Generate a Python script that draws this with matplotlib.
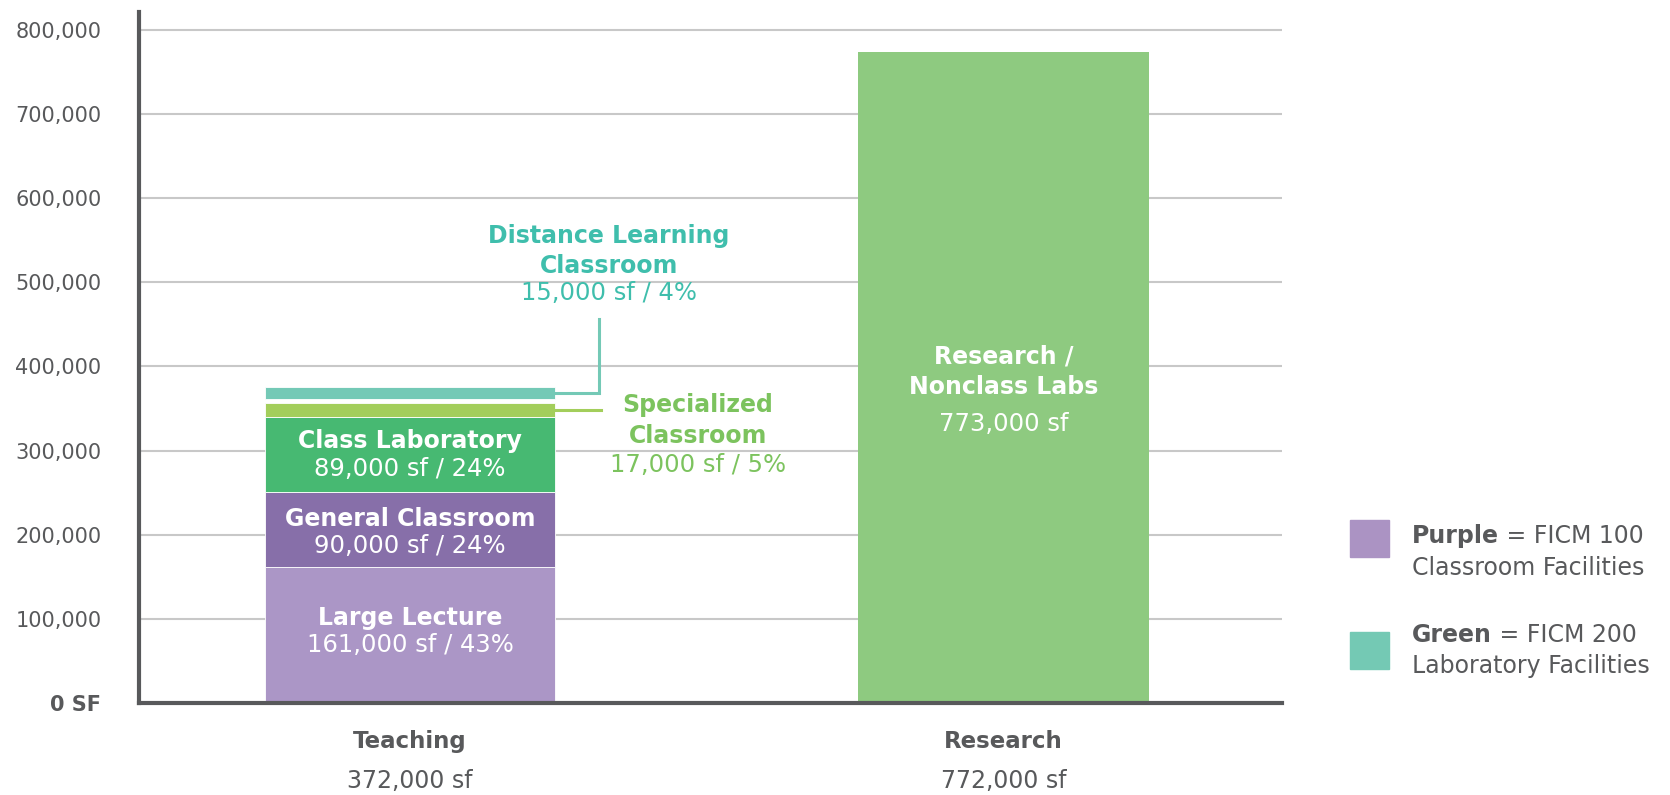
import matplotlib.pyplot as plt
from matplotlib.patches import Rectangle
from matplotlib.ticker import FuncFormatter

plt.rcParams['font.family'] = ['DejaVu Sans']

# data
categories = ['Teaching', 'Research']
cat_totals = ['372,000 sf', '772,000 sf']
teach_names = ['Large Lecture', 'General Classroom', 'Class Laboratory',
               'Specialized Classroom', 'Distance Learning Classroom']
teach_values = [161000, 90000, 89000, 17000, 15000]
teach_pct = [43, 24, 24, 5, 4]
teach_colors = ['#AB96C6', '#876FA9', '#47B972', '#A3CE5B', '#74C9B6']
research_value = 773000
research_color = '#8ECA80'
yticks = [0, 100000, 200000, 300000, 400000, 500000, 600000, 700000, 800000]

GRAY = '#58595B'
TEAL_TXT = '#3FBEAC'
LIME_TXT = '#7CC35E'

W, H = 1670, 795
fig = plt.figure(figsize=(W / 100, H / 100), dpi=100)
ax = fig.add_axes([139 / W, 1 - 703 / H, (1282 - 139) / W, (703 - 12) / H])

bw = 0.49
bottom = 0
gaps = [0, 0, 0, 0, 4000]
for i, (v, c) in enumerate(zip(teach_values, teach_colors)):
    b = bottom + gaps[i]
    ax.bar(0, v, width=bw, bottom=b, color=c, edgecolor='white', linewidth=0.6, zorder=3)
    bottom = b + v
ax.bar(1, research_value, width=bw, color=research_color, zorder=3)

ax.set_xlim(-0.4566, 1.469)
ax.set_ylim(0, 821000)
ax.set_xticks([])
ax.set_yticks(yticks)
ax.yaxis.set_major_formatter(FuncFormatter(lambda v, p: '0 SF' if v == 0 else f'{int(v):,}'))
ax.tick_params(axis='y', length=0, pad=27, labelsize=15, labelcolor=GRAY)
ax.get_yticklabels()[0].set_fontweight('bold')
ax.grid(axis='y', color='#C8C8C8', linewidth=1.5, zorder=0)
for s in ['top', 'right']:
    ax.spines[s].set_visible(False)
for s in ['left', 'bottom']:
    ax.spines[s].set_color(GRAY)
    ax.spines[s].set_linewidth(3)
    ax.spines[s].set_zorder(4)

# labels inside the stacked bar
shift = [5000, -3000, 0]
cum = 0
for i in range(3):
    mid = cum + teach_values[i] / 2 + shift[i]
    cum += teach_values[i]
    ax.text(0, mid + 16000, teach_names[i], ha='center', va='center', color='white',
            fontsize=17, fontweight='bold', zorder=5)
    ax.text(0, mid - 17000, f'{teach_values[i]:,} sf / {teach_pct[i]}%', ha='center',
            va='center', color='white', fontsize=17.5, zorder=5)

# research label
ax.text(1, 394000, 'Research /\nNonclass Labs', ha='center', va='center', color='white',
        fontsize=17, fontweight='bold', linespacing=1.35, zorder=5)
ax.text(1, 331000, f'{research_value:,} sf', ha='center', va='center', color='white',
        fontsize=17.5, zorder=5)

# callouts
dl_y = sum(teach_values[:4]) + gaps[4] + teach_values[4] / 2
sp_y = sum(teach_values[:3]) + teach_values[3] / 2
ax.plot([bw / 2, 0.318, 0.318], [dl_y, dl_y, 456000], color='#74C9B6', lw=2.2,
        solid_joinstyle='miter', zorder=3)
ax.plot([bw / 2, 0.322], [sp_y, sp_y], color='#A3CE5B', lw=2.2, zorder=3)

ax.text(0.335, 537000, 'Distance Learning\nClassroom', ha='center', va='center',
        color=TEAL_TXT, fontsize=17, fontweight='bold', linespacing=1.35)
ax.text(0.335, 487000, f'{teach_values[4]:,} sf / {teach_pct[4]}%', ha='center',
        va='center', color=TEAL_TXT, fontsize=17.5)
ax.text(0.485, 336000, 'Specialized\nClassroom', ha='center', va='center',
        color=LIME_TXT, fontsize=17, fontweight='bold', linespacing=1.35)
ax.text(0.485, 283000, f'{teach_values[3]:,} sf / {teach_pct[3]}%', ha='center',
        va='center', color=LIME_TXT, fontsize=17.5)

# category labels under the axis
tr = ax.get_xaxis_transform()
for x, (name, tot) in enumerate(zip(categories, cat_totals)):
    ax.text(x, -0.0564, name, transform=tr, ha='center', va='center', color=GRAY,
            fontsize=16.5, fontweight='bold', clip_on=False)
    ax.text(x, -0.113, tot, transform=tr, ha='center', va='center', color=GRAY,
            fontsize=17, clip_on=False)

# legend (square top, text first row, text second row in pixels)
legend_items = [('Purple', 'FICM 100', 'Classroom Facilities', '#AB93C3', 520, 536, 568),
                ('Green', 'FICM 200', 'Laboratory Facilities', '#74C9B4', 632, 635, 666)]
for word, code, desc, col, ytop, y1, y2 in legend_items:
    fig.add_artist(Rectangle((1350 / W, 1 - (ytop + 37) / H), 39 / W, 37 / H,
                             transform=fig.transFigure, color=col))
    t = fig.text(1412 / W, 1 - y1 / H, word, ha='left', va='center',
                 color=GRAY, fontsize=17, fontweight='bold')
    fig.canvas.draw()
    bb = t.get_window_extent()
    fig.text(bb.x1 / W, 1 - y1 / H, f' = {code}', ha='left', va='center',
             color=GRAY, fontsize=17)
    fig.text(1412 / W, 1 - y2 / H, desc, ha='left', va='center',
             color=GRAY, fontsize=17)

fig.savefig('out.png', dpi=100)
